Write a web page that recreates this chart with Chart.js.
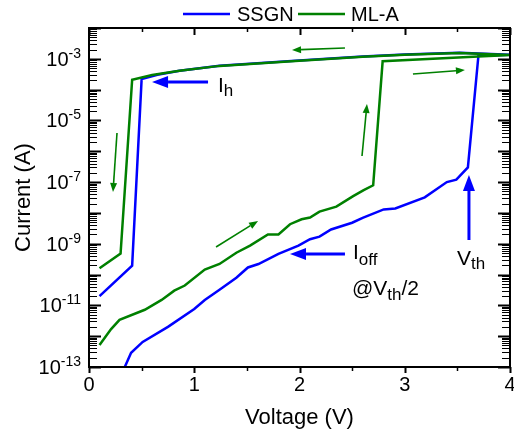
<!DOCTYPE html>
<html>
<head>
<meta charset="utf-8">
<script src="https://cdn.jsdelivr.net/npm/chart.js@4/dist/chart.umd.min.js"></script>
<style>
  html, body { margin: 0; padding: 0; background: #fff; }
  canvas { display: block; }
</style>
</head>
<body>
<canvas id="iv-chart" width="514" height="437"></canvas>
<script>
// SSGN sweep: forward up to threshold, then back along the on-state branch
const ssgnV = [0.34, 0.40, 0.51, 0.75, 1.00, 1.10, 1.24, 1.40, 1.51, 1.61, 1.80, 1.99, 2.10, 2.19, 2.30, 2.50, 2.60, 2.80, 2.91, 3.19, 3.40, 3.49, 3.60, 3.70, 4.00,
               3.52, 3.00, 2.60, 1.96, 1.24, 0.86, 0.65, 0.50, 0.41, 0.10];
const ssgnI = [1.0e-13, 2.9e-13, 6.5e-13, 2.0e-12, 7.6e-12, 1.5e-11, 3.2e-11, 7.9e-11, 1.7e-10, 2.2e-10, 4.7e-10, 8.7e-10, 1.4e-9, 1.7e-9, 2.9e-9, 4.8e-9, 6.9e-9, 1.3e-8, 1.4e-8, 3.2e-8, 1.0e-7, 1.2e-7, 3.0e-7, 1.26e-3, 1.36e-3,
               1.57e-3, 1.37e-3, 1.18e-3, 8.6e-4, 5.95e-4, 4.12e-4, 3.05e-4, 2.2e-4, 1.95e-10, 2.0e-11];

// ML-A sweep
const mlaV = [0.10, 0.21, 0.29, 0.53, 0.69, 0.81, 0.91, 1.10, 1.24, 1.40, 1.53, 1.70, 1.80, 1.91, 2.02, 2.10, 2.19, 2.35, 2.51, 2.61, 2.70, 2.79, 3.70, 4.00,
              3.52, 3.00, 2.60, 1.96, 1.24, 0.86, 0.60, 0.41, 0.30, 0.10];
const mlaI = [5.2e-13, 1.7e-12, 3.4e-12, 7.2e-12, 1.5e-11, 3.0e-11, 4.4e-11, 1.45e-10, 2.2e-10, 5.1e-10, 8.7e-10, 2.0e-9, 2.0e-9, 4.3e-9, 6.2e-9, 7.1e-9, 1.1e-8, 1.6e-8, 3.5e-8, 5.5e-8, 7.9e-8, 8.3e-4, 1.2e-3, 1.32e-3,
              1.55e-3, 1.35e-3, 1.17e-3, 8.5e-4, 5.9e-4, 4.1e-4, 3.0e-4, 2.1e-4, 4.8e-10, 1.6e-10];

const xTicks = [0, 1, 2, 3, 4];
const yLabelExps = [-3, -5, -7, -9, -11, -13];

const BLUE = "#0000ff";
const GREEN = "#008000";
const FONT = "'Liberation Sans', Arial, sans-serif";

function toPoints(xs, ys) {
  return xs.map((x, i) => ({ x: x, y: ys[i] }));
}

function arrow(ctx, x1, y1, x2, y2, lw, headLen, headW, color) {
  const ang = Math.atan2(y2 - y1, x2 - x1);
  const bx = x2 - Math.cos(ang) * headLen;
  const by = y2 - Math.sin(ang) * headLen;
  ctx.save();
  ctx.strokeStyle = color;
  ctx.fillStyle = color;
  ctx.lineWidth = lw;
  ctx.beginPath();
  ctx.moveTo(x1, y1);
  ctx.lineTo(bx, by);
  ctx.stroke();
  ctx.beginPath();
  ctx.moveTo(x2, y2);
  ctx.lineTo(bx + Math.sin(ang) * headW, by - Math.cos(ang) * headW);
  ctx.lineTo(bx - Math.sin(ang) * headW, by + Math.cos(ang) * headW);
  ctx.closePath();
  ctx.fill();
  ctx.restore();
}

// parts: [text, fontSize, baselineShift]
function richText(ctx, parts, x, y) {
  ctx.save();
  ctx.fillStyle = "#000";
  ctx.textBaseline = "alphabetic";
  ctx.textAlign = "left";
  let cx = x;
  parts.forEach(([t, size, dy]) => {
    ctx.font = `${size}px ${FONT}`;
    ctx.fillText(t, cx, y + dy);
    cx += ctx.measureText(t).width;
  });
  ctx.restore();
  return cx - x;
}

function richWidth(ctx, parts) {
  let w = 0;
  parts.forEach(([t, size]) => {
    ctx.font = `${size}px ${FONT}`;
    w += ctx.measureText(t).width;
  });
  return w;
}

// green sweep-direction arrows, [V1, I1, V2, I2]
const greenArrows = [
  [2.432, 2.25e-3, 1.929, 1.93e-3],
  [3.078, 3.2e-4, 3.572, 4.34e-4],
  [2.594, 7.0e-7, 2.641, 3.42e-5],
  [0.266, 3.9e-6, 0.228, 4.8e-8],
  [1.207, 7.8e-10, 1.606, 5.5e-9],
];
// blue marker arrows
const blueArrows = [
  [1.131, 1.77e-4, 0.599, 1.77e-4],
  [2.432, 4.65e-10, 1.910, 4.65e-10],
  [3.610, 1.32e-9, 3.610, 1.70e-7],
];

const decorPlugin = {
  id: "decor",
  afterDatasetsDraw(chart) {
    const ctx = chart.ctx;
    const xs = chart.scales.x;
    const ys = chart.scales.y;
    const { left, right, top, bottom } = chart.chartArea;

    // arrows
    greenArrows.forEach(([a, b, c, d]) => {
      arrow(ctx, xs.getPixelForValue(a), ys.getPixelForValue(b),
        xs.getPixelForValue(c), ys.getPixelForValue(d), 1.6, 9, 3.5, GREEN);
    });
    blueArrows.forEach(([a, b, c, d]) => {
      arrow(ctx, xs.getPixelForValue(a), ys.getPixelForValue(b),
        xs.getPixelForValue(c), ys.getPixelForValue(d), 3, 16, 6, BLUE);
    });

    // annotation text
    richText(ctx, [["I", 21, 0], ["h", 17, 4]], xs.getPixelForValue(1.226), ys.getPixelForValue(8.4e-5));
    richText(ctx, [["I", 21, 0], ["off", 17, 6]], xs.getPixelForValue(2.508), ys.getPixelForValue(3.2e-10));
    richText(ctx, [["@V", 21, 0], ["th", 17, 5], ["/2", 21, 0]], xs.getPixelForValue(2.499), ys.getPixelForValue(2.17e-11));
    richText(ctx, [["V", 21, 0], ["th", 17, 4]], xs.getPixelForValue(3.497), ys.getPixelForValue(2.04e-10));

    ctx.save();
    ctx.strokeStyle = "#000";
    ctx.lineCap = "butt";

    // y ticks, inward on both sides
    for (let e = -13; e <= -2; e++) {
      for (let m = 1; m <= 9; m++) {
        const v = m * Math.pow(10, e);
        if (e === -2 && m > 1) break;
        const py = Math.round(ys.getPixelForValue(v)) + 0.5;
        const len = m === 1 ? 12 : 8;
        ctx.lineWidth = m === 1 ? 2 : 1.2;
        ctx.beginPath();
        ctx.moveTo(left, py); ctx.lineTo(left + len, py);
        ctx.moveTo(right, py); ctx.lineTo(right - len, py);
        ctx.stroke();
      }
    }

    // x ticks: bottom outward, top inward
    for (let k = 0; k <= 8; k++) {
      const v = k * 0.5;
      const px = Math.round(xs.getPixelForValue(v)) + 0.5;
      const major = k % 2 === 0;
      ctx.lineWidth = major ? 2 : 1.5;
      ctx.beginPath();
      ctx.moveTo(px, bottom); ctx.lineTo(px, bottom + (major ? 6 : 4));
      ctx.moveTo(px, top); ctx.lineTo(px, top + (major ? 7 : 4));
      ctx.stroke();
    }

    // frame
    ctx.lineWidth = 2;
    ctx.strokeRect(left, top, right - left, bottom - top);
    ctx.restore();

    // x tick labels
    ctx.save();
    ctx.fillStyle = "#000";
    ctx.font = `20px ${FONT}`;
    ctx.textAlign = "center";
    ctx.textBaseline = "alphabetic";
    xTicks.forEach((v) => {
      ctx.fillText(String(v), xs.getPixelForValue(v), 391);
    });
    ctx.restore();

    // y tick labels 10^n
    yLabelExps.forEach((e) => {
      const parts = [["10", 20, 0], [String(e), 14, -8]];
      const w = richWidth(ctx, parts);
      const py = ys.getPixelForValue(Math.pow(10, e));
      richText(ctx, parts, 81 - w, py + 7);
    });

    // axis titles
    ctx.save();
    ctx.fillStyle = "#000";
    ctx.font = `22px ${FONT}`;
    ctx.textAlign = "center";
    ctx.textBaseline = "alphabetic";
    ctx.fillText("Voltage (V)", (left + right) / 2, 424);
    ctx.translate(30, (top + bottom) / 2);
    ctx.rotate(-Math.PI / 2);
    ctx.fillText("Current (A)", 0, 0);
    ctx.restore();

    // legend
    ctx.save();
    ctx.lineWidth = 2.5;
    ctx.strokeStyle = BLUE;
    ctx.beginPath(); ctx.moveTo(183, 14); ctx.lineTo(230, 14); ctx.stroke();
    ctx.strokeStyle = GREEN;
    ctx.beginPath(); ctx.moveTo(298, 14); ctx.lineTo(345, 14); ctx.stroke();
    ctx.fillStyle = "#000";
    ctx.font = `20px ${FONT}`;
    ctx.textBaseline = "alphabetic";
    ctx.fillText("SSGN", 237, 21);
    ctx.fillText("ML-A", 351, 21);
    ctx.restore();
  },
};

new Chart(document.getElementById("iv-chart"), {
  type: "scatter",
  data: {
    datasets: [
      {
        label: "SSGN",
        data: toPoints(ssgnV, ssgnI),
        showLine: true,
        borderColor: BLUE,
        borderWidth: 2.5,
        pointRadius: 0,
        tension: 0,
        order: 2,
      },
      {
        label: "ML-A",
        data: toPoints(mlaV, mlaI),
        showLine: true,
        borderColor: GREEN,
        borderWidth: 2.5,
        pointRadius: 0,
        tension: 0,
        order: 1,
      },
    ],
  },
  options: {
    responsive: false,
    animation: false,
    devicePixelRatio: 1,
    layout: { padding: { left: 89, right: 4, top: 28, bottom: 70 } },
    plugins: { legend: { display: false }, tooltip: { enabled: false } },
    scales: {
      x: { type: "linear", min: 0, max: 4, display: false },
      y: { type: "logarithmic", min: 1e-13, max: 1e-2, display: false },
    },
  },
  plugins: [decorPlugin],
});
</script>
</body>
</html>
